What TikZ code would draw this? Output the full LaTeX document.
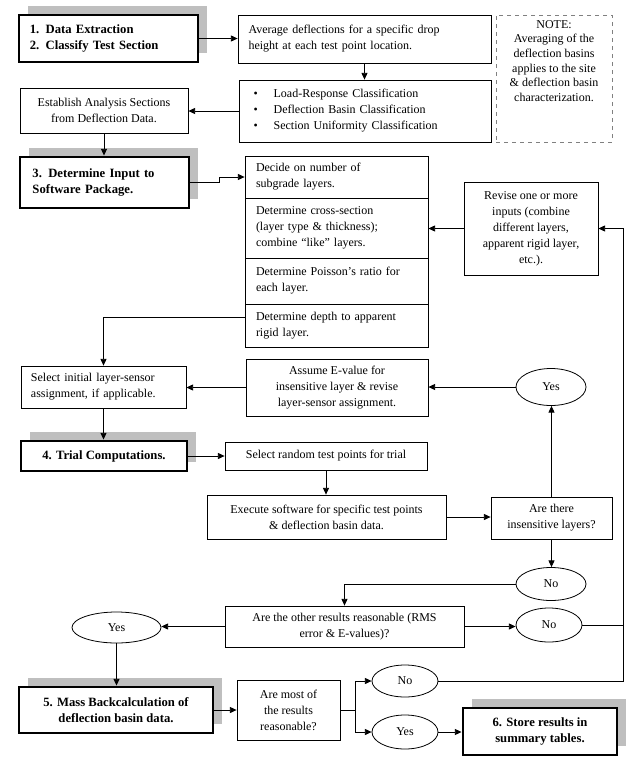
\documentclass[tikz,border=0pt]{standalone}
\usepackage{fontspec}
\setmainfont{Liberation Serif}
\usetikzlibrary{arrows.meta,positioning,shapes.geometric,shadows}
\newcommand{\blt}{\makebox[15pt][l]{\textbullet}}

\begin{document}
\begin{tikzpicture}[x=0.75pt,y=-0.75pt,
  font=\fontsize{9}{12}\selectfont,
  bx/.style={draw,line width=0.6pt,fill=white,inner sep=0pt,align=center},
  lbx/.style={bx,align=left},
  cell/.style={lbx,minimum width=137.25pt,inner xsep=8.25pt,text width=120.75pt},
  stepbox/.style={draw,line width=2.2pt,fill=white,inner sep=0pt,
    font=\fontsize{9.5}{12}\selectfont\bfseries,
    general shadow={fill=black!25,shadow xshift=6.4pt,shadow yshift=6.4pt}},
  oval/.style={draw,ellipse,line width=0.6pt,fill=white,inner sep=0pt},
  arr/.style={-{Triangle[length=5pt,width=4.5pt]},line width=0.6pt},
  ln/.style={line width=0.6pt}]
  \useasboundingbox (0,0) rectangle (627,768);

  % steps and boxes
  \node[stepbox,align=left,minimum width=134.25pt,minimum height=35.25pt,
    inner xsep=8pt,text width=118pt] (dex) at (108.5,38.5)
    {1. Data Extraction\\2. Classify Test Section};
  \node[lbx,minimum width=189.75pt,minimum height=36pt,inner xsep=7.5pt,
    text width=174pt] (avg) at (364.5,39)
    {Average deflections for a specific drop\\height at each test point location.};
  \node[lbx,minimum width=189pt,minimum height=46.5pt,inner xsep=10.5pt,
    text width=167pt] (cls) at (365,111)
    {\blt Load-Response Classification\\\blt Deflection Basin Classification\\
     \blt Section Uniformity Classification};
  \node[draw=gray,dashed,line width=0.6pt,minimum width=87pt,
    minimum height=95.25pt] (note) at (554,78.5) {};
  \node[align=center,anchor=north,inner sep=0pt,font=\fontsize{9}{11}\selectfont]
    (notetxt) at ([yshift=-4pt]note.north)
    {NOTE:\\Averaging of the\\deflection basins\\applies to the site\\
     \& deflection basin\\characterization.};
  \node[bx,minimum width=126pt,minimum height=33.75pt] (est) at (104,110.5)
    {Establish Analysis Sections\\from Deflection Data.};

  \node[stepbox,align=left,minimum width=126.75pt,minimum height=38.25pt,
    inner xsep=9pt,text width=108pt] (inp) at (104.5,182.5)
    {3. Determine Input to\\Software Package.};
  \node[cell,minimum height=31.5pt] (lay) at (336.5,177)
    {Decide on number of\\subgrade layers.};
  \node[cell,minimum height=45pt,below=-0.6pt of lay] (xsec)
    {Determine cross-section\\(layer type \& thickness);\\combine “like” layers.};
  \node[cell,minimum height=34.5pt,below=-0.6pt of xsec] (poi)
    {Determine Poisson’s ratio for\\each layer.};
  \node[cell,minimum height=32.25pt,below=-0.6pt of poi] (dep)
    {Determine depth to apparent\\rigid layer.};
  \node[bx,minimum width=100.5pt,minimum height=69.75pt] (rev) at (531,228.5)
    {Revise one or more\\inputs (combine\\different layers,\\apparent rigid layer,\\etc.).};

  \node[lbx,minimum width=123.75pt,minimum height=31.5pt,inner xsep=7.5pt,
    text width=108.75pt] (sel) at (103.5,387)
    {Select initial layer-sensor\\assignment, if applicable.};
  \node[bx,minimum width=136.5pt,minimum height=42.75pt] (asm) at (337,387.5)
    {Assume E-value for\\insensitive layer \& revise\\layer-sensor assignment.};
  \node[oval,minimum width=52.5pt,minimum height=27.75pt] (yes1) at (551,387) {Yes};

  \node[stepbox,minimum width=124.5pt,minimum height=22.5pt] (trial) at (104,456)
    {4. Trial Computations.};
  \node[bx,minimum width=151.5pt,minimum height=21pt] (rnd) at (326,456)
    {Select random test points for trial};
  \node[bx,minimum width=179.25pt,minimum height=33pt] (exe) at (326.5,517)
    {Execute software for specific test points\\\& deflection basin data.};
  \node[bx,minimum width=90.75pt,minimum height=31.5pt] (ins) at (551.5,518)
    {Are there\\insensitive layers?};
  \node[oval,minimum width=52.5pt,minimum height=24.75pt] (no1) at (551,584) {No};

  \node[bx,minimum width=179.25pt,minimum height=30.75pt] (oth) at (344.5,626.5)
    {Are the other results reasonable (RMS\\error \& E-values)?};
  \node[oval,minimum width=49.5pt,minimum height=25.5pt] (no2) at (549,625) {No};
  \node[oval,minimum width=66.75pt,minimum height=23.25pt] (yes2) at (116.5,627.5) {Yes};

  \node[stepbox,align=center,minimum width=145.5pt,minimum height=34.5pt] (mass)
    at (116,710) {5. Mass Backcalculation of\\deflection basin data.};
  \node[bx,minimum width=77.25pt,minimum height=45pt] (most) at (288.5,710)
    {Are most of\\the results\\reasonable?};
  \node[oval,minimum width=49.5pt,minimum height=24pt] (no3) at (405,681) {No};
  \node[oval,minimum width=49.5pt,minimum height=25.5pt] (yes3) at (405,732) {Yes};
  \node[stepbox,align=center,minimum width=115.5pt,minimum height=35.25pt] (store)
    at (540,731.5) {6. Store results in\\summary tables.};

  % connectors
  \coordinate (rhs) at (623,0);
  \coordinate (split) at ([xshift=11pt]most.east);
  \draw[arr] (dex.east) -- (dex.east -| avg.west);
  \draw[arr] (avg.south) -- (avg.south |- cls.north);
  \draw[arr] (cls.west) -- (cls.west -| est.east);
  \draw[arr] (est.south) -- (est.south |- inp.north);
  \draw[arr] (inp.east) -- ++(29,0) |- (lay.west);
  \draw[arr] (rev.west) -- (rev.west -| xsec.east);
  \draw[arr] ([yshift=6.4pt]dep.west) -| (sel.north);
  \draw[arr] (asm.west) -- (asm.west -| sel.east);
  \draw[arr] (yes1.west) -- (yes1.west -| asm.east);
  \draw[arr] (sel.south) -- (sel.south |- trial.north);
  \draw[arr] (trial.east) -- (trial.east -| rnd.west);
  \draw[arr] (rnd.south) -- (rnd.south |- exe.north);
  \draw[arr] (exe.east) -- (exe.east -| ins.west);
  \draw[arr] (ins.north) -- (ins.north |- yes1.south);
  \draw[arr] (ins.south) -- (ins.south |- no1.north);
  \draw[arr] (no1.west) -| (oth.north);
  \draw[arr] (oth.east) -- (oth.east -| no2.west);
  \draw[arr] (oth.west) -- (oth.west -| yes2.east);
  \draw[arr] (yes2.south) -- (yes2.south |- mass.north);
  \draw[arr] (mass.east) -- (mass.east -| most.west);
  \draw[ln] (most.east) -- (split);
  \draw[arr] (split) |- (no3.west);
  \draw[arr] (split) |- (yes3.west);
  \draw[arr] (yes3.east) -- (yes3.east -| store.west);
  \draw[ln] (no2.east) -- (no2.east -| rhs);
  \draw[arr] (no3.east) -- (no3.east -| rhs) |- (rev.east);
\end{tikzpicture}
\end{document}
